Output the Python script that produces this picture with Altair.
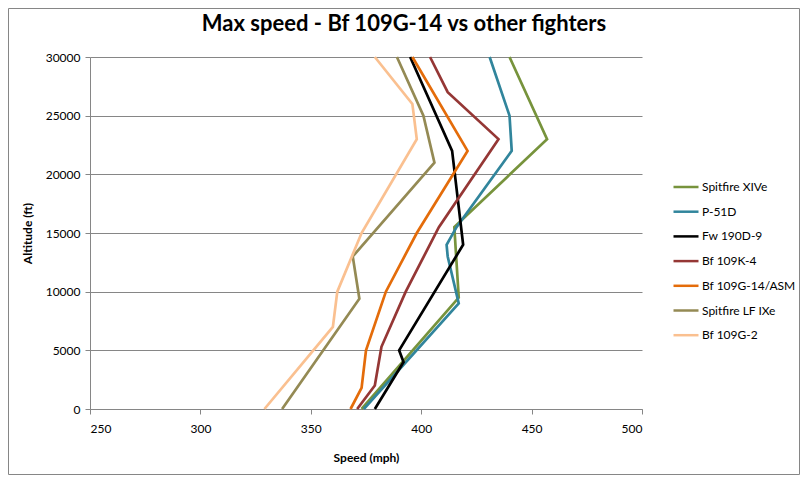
import altair as alt
import pandas as pd

# ---- data ----
series = ["Spitfire XIVe", "P-51D", "Fw 190D-9", "Bf 109K-4",
          "Bf 109G-14/ASM", "Spitfire LF IXe", "Bf 109G-2"]
colors = ["#77933C", "#31859C", "#000000", "#953735",
          "#E46C0A", "#948A54", "#FAC090"]

spit14_alt = [0, 9500, 15500, 23000, 30000]
spit14_spd = [373, 417, 415, 457, 440]

p51d_alt = [0, 9000, 13000, 14000, 15500, 22000, 25000, 30000]
p51d_spd = [374, 417, 412, 411.5, 416, 441, 440, 431]

fw190_alt = [0, 4000, 5000, 14000, 22000, 30000]
fw190_spd = [379, 392, 390, 419, 414, 395]

k4_alt = [0, 2000, 5300, 10000, 15500, 23000, 27000, 30000]
k4_spd = [371, 379, 382, 393, 408, 435, 412, 404]

g14_alt = [0, 1800, 5000, 10000, 15000, 22000, 30000]
g14_spd = [368, 373, 375, 384, 398, 421, 396]

spit9_alt = [0, 9400, 13000, 21000, 25000, 30000]
spit9_spd = [337, 372, 369, 406, 401, 389]

g2_alt = [0, 7000, 10000, 15000, 23000, 26000, 30000]
g2_spd = [329, 360, 362, 373, 398, 396, 379]

x_ticks = [250, 300, 350, 400, 450, 500]
y_ticks = [0, 5000, 10000, 15000, 20000, 25000, 30000]

pairs = [(spit14_alt, spit14_spd), (p51d_alt, p51d_spd), (fw190_alt, fw190_spd),
         (k4_alt, k4_spd), (g14_alt, g14_spd), (spit9_alt, spit9_spd), (g2_alt, g2_spd)]

rows = []
for name, (alts, spds) in zip(series, pairs):
    for a, s in zip(alts, spds):
        rows.append({"Fighter": name, "Altitude": a, "Speed": s})
df = pd.DataFrame(rows)

FONT = "Lato"
GRAY = "#868686"

lines = alt.Chart(df).mark_line(strokeWidth=2.7).encode(
    x=alt.X("Speed:Q",
            scale=alt.Scale(domain=[250, 500], nice=False, zero=False),
            axis=alt.Axis(values=x_ticks, title="Speed (mph)", grid=False,
                          tickSize=5, labelPadding=9, titleY=48,
                          titleBaseline="middle")),
    y=alt.Y("Altitude:Q",
            scale=alt.Scale(domain=[0, 30000], nice=False),
            axis=alt.Axis(values=y_ticks, format="d", title="Altitude (ft)",
                          grid=True, tickSize=5, labelPadding=5,
                          titleX=-63, titleY=176, titleAlign="center",
                          titleBaseline="middle")),
    color=alt.Color("Fighter:N",
                    scale=alt.Scale(domain=series, range=colors),
                    legend=alt.Legend(title=None, orient="none",
                                      legendX=582, legendY=116,
                                      symbolType="stroke", symbolSize=625,
                                      symbolStrokeWidth=2.5,
                                      labelFont=FONT, labelFontSize=12,
                                      labelColor="black", labelOffset=2,
                                      rowPadding=4.7)),
    order=alt.Order("Altitude:Q"),
)

frame = alt.Chart(pd.DataFrame({"f": [0]})).mark_rect(
    filled=False, stroke=GRAY, strokeWidth=1
).encode(
    x=alt.value(-81.5), x2=alt.value(709.5),
    y=alt.value(-48.5), y2=alt.value(417.5),
)

chart = alt.layer(lines, frame).properties(
    width=552, height=352,
    padding={"left": 82, "top": 49, "right": 158, "bottom": 66},
    autosize="none",
    title=alt.Title("Max speed - Bf 109G-14 vs other fighters",
                    font=FONT, fontSize=22, fontWeight="bold",
                    color="black", anchor="middle", dx=38, offset=-28),
).configure_view(stroke=None).configure_axis(
    labelFont=FONT, labelFontSize=12, labelColor="black",
    titleFont=FONT, titleFontSize=12, titleFontWeight="bold", titleColor="black",
    domainColor=GRAY, tickColor=GRAY, gridColor=GRAY, gridOpacity=1,
    domainWidth=1, gridWidth=1,
)

chart.save("out.html", embed_options={"renderer": "svg", "actions": False})
